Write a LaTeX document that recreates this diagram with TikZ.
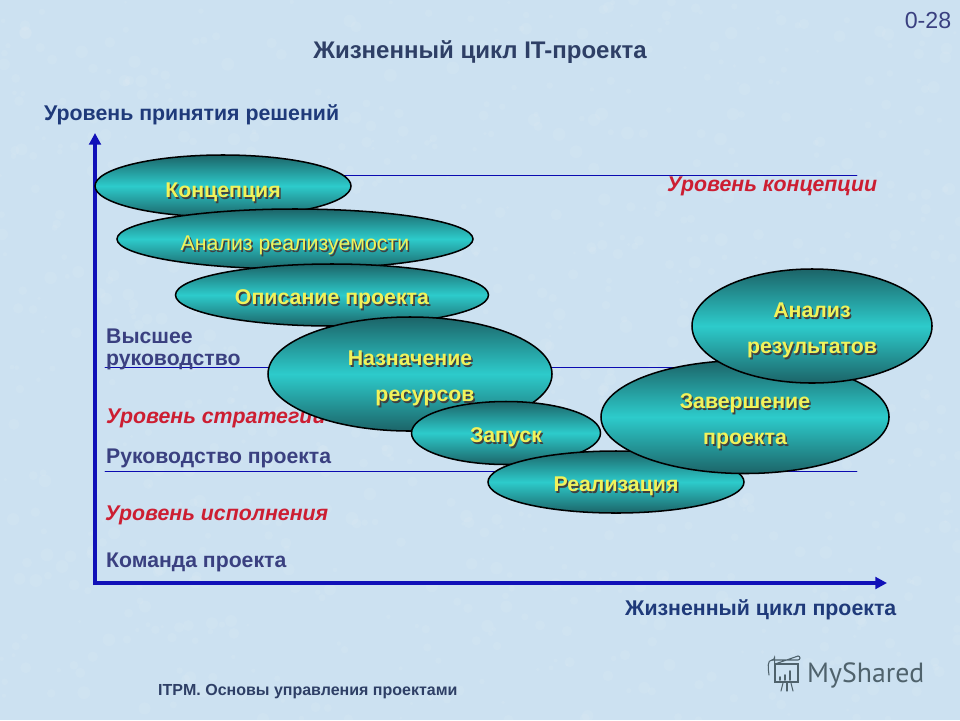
\documentclass[tikz,border=0pt]{standalone}
\usepackage{fontspec}
\setmainfont{Liberation Sans}
\newfontfamily\logofont{PT Sans}
\usetikzlibrary{shapes.geometric,arrows.meta}
\definecolor{paleblue}{HTML}{CCE1F1}
\definecolor{axisblue}{HTML}{1010B8}
\definecolor{linenavy}{HTML}{0A0AB0}
\definecolor{slateink}{HTML}{3A4080}
\definecolor{titleink}{HTML}{2E3F66}
\definecolor{axisink}{HTML}{1F3A7A}
\definecolor{levelred}{HTML}{CC1E32}
\definecolor{ovaldark}{HTML}{1C6468}
\definecolor{ovalmid}{HTML}{2DCBCB}
\definecolor{ovaltext}{HTML}{F2F25A}
\definecolor{logoink}{HTML}{4F626C}
% yellow label with a dark copy behind it
\newcommand{\ovaltxt}[2][8.4pt]{\raisebox{-#1}[8pt][8pt]{\makebox[0pt][l]{\kern1.3pt\raisebox{-1.3pt}{\textcolor{black!75}{#2}}}#2}}
\begin{document}
\begin{tikzpicture}[x=0.03cm, y=-0.03cm, line cap=round,
  oval/.style={ellipse, draw=black, line width=1.3pt, inner sep=0pt, top color=ovaldark,
    bottom color=ovaldark, middle color=ovalmid, text=ovaltext, align=center,
    font=\bfseries\fontsize{18.2}{30.6}\selectfont},
  level/.style={anchor=west, inner sep=0pt, text=levelred, font=\bfseries\itshape\fontsize{18.2}{20}\selectfont},
  staff/.style={anchor=west, inner sep=0pt, text=slateink, font=\bfseries\fontsize{18.1}{18.7}\selectfont, align=left},
  axislabel/.style={anchor=west, inner sep=0pt, text=axisink, font=\bfseries\fontsize{18.2}{20}\selectfont},
  guide/.style={draw=linenavy, line width=0.6pt},
  axisline/.style={draw=axisblue, line width=3.4pt, line cap=butt, -{Triangle[length=10pt,width=10pt]}}]

% page
\fill[paleblue] (0,0) rectangle (960,720);
\useasboundingbox (0,0) rectangle (960,720);
\pgfmathsetseed{28}
\foreach \i in {1,...,900} \fill[white, opacity=0.07] (960*rnd,720*rnd) circle (1.5+5*rnd);

% header and footer
\node[text=slateink, font=\fontsize{19.8}{22}\selectfont] (pageno) at (928,21) {0-28};
\node[text=titleink, font=\bfseries\fontsize{20.5}{22}\selectfont] (title) at (480,52) {Жизненный цикл IT-проекта};
\node[anchor=west, inner sep=0pt, text=titleink, font=\bfseries\fontsize{13.65}{15}\selectfont] (footer) at (158,692) {ITPM. Основы управления проектами};

% axes
\coordinate (origin) at (93,583);
\coordinate (ybase) at (95,585);
\coordinate (ytop) at (95,133);
\coordinate (xend) at (887,583);
\draw[axisline] (ybase) -- (ytop);
\draw[axisline] (origin) -- (xend);
\node[axislabel] (ylabel) at (44,115) {Уровень принятия решений};
\node[axislabel] (xlabel) at (625,610) {Жизненный цикл проекта};

% level lines, they run behind the ovals
\coordinate (topA) at (200,175);
\coordinate (topB) at (857,175);
\coordinate (midA) at (105,367);
\coordinate (midB) at (700,367);
\coordinate (lowA) at (105,471);
\coordinate (lowB) at (857,471);
\draw[guide] (topA) -- (topB);
\draw[guide] (midA) -- (midB);
\draw[guide] (lowA) -- (lowB);

% texts of the left column
\node[staff] (top) at (106,349) {Высшее\\руководство};
\node[level] (strategy) at (106,418) {Уровень стратегии};
\node[staff] (manager) at (106,458) {Руководство проекта};
\node[level] (execution) at (105,515) {Уровень исполнения};
\node[staff] (team) at (106,562) {Команда проекта};
\node[level] (concept) at (667,186) {Уровень концепции};

% phases, each one lies over the one before
\node[oval, minimum width=7.68cm, minimum height=1.86cm] (idea) at (223,186) {\ovaltxt[9.8pt]{Концепция}};
\node[oval, minimum width=10.68cm, minimum height=1.8cm] (study) at (295,239) {\ovaltxt[9.8pt]{\mdseries Анализ реализуемости}};
\node[oval, minimum width=9.39cm, minimum height=1.86cm] (scope) at (332,295) {\ovaltxt{Описание проекта}};
\node[oval, minimum width=8.52cm, minimum height=3.42cm] (assign) at (410,374) {\ovaltxt{Назначение}\\\hspace*{0.9cm}\ovaltxt{ресурсов}};
\node[oval, minimum width=5.67cm, minimum height=1.89cm] (launch) at (506,433) {\ovaltxt{Запуск}};
\node[oval, minimum width=7.68cm, minimum height=1.86cm] (build) at (616,482) {\ovaltxt{Реализация}};
\node[oval, minimum width=8.64cm, minimum height=3.39cm] (finish) at (745,417) {\ovaltxt{Завершение}\\\ovaltxt{проекта}};
\node[oval, minimum width=7.2cm, minimum height=3.42cm] (review) at (812,326) {\ovaltxt{Анализ}\\\ovaltxt{результатов}};

% watermark
\begin{scope}[draw=logoink, line width=0.9pt]
\draw (775,664) rectangle (798,682);
\draw (772,660) -- (798,660) arc (90:-90:2) -- (775,664);
\draw (772,660) .. controls (767,660) and (768,668) .. (769,675);
\draw (772,660) arc (90:0:2.5) -- (775,671);
\foreach \xx/\yy in {780/677, 785/675, 790/671} \draw[line width=1.6pt] (\xx,680) -- (\xx,\yy);
\draw (783,683) -- (781,691);
\draw (787,683) -- (787,691);
\draw (791,683) -- (793,691);
\end{scope}
\node[anchor=west, inner sep=0pt, text=logoink, font=\logofont\fontsize{23.7}{25}\selectfont] (logo) at (807,675) {MyShared};

\end{tikzpicture}
\end{document}
